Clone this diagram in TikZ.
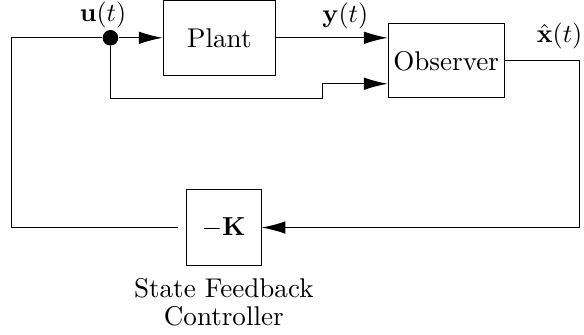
\documentclass[tikz,border=0pt]{standalone}
\usepackage{amsmath}
\usepackage{tikz}
\usetikzlibrary{arrows.meta, positioning}

\begin{document}
\begin{tikzpicture}[
            node distance=0.5mm,
            font=\fontsize{10.4}{10.7}\selectfont,
            block/.style ={rectangle, draw=black, inner sep=2pt,
                           minimum width=1.52cm, minimum height=1.02cm, align=center},
            branch/.style={circle, fill=black, inner sep=0pt, minimum size=2.1mm},
            arrow/.style ={-{Latex[length=3.2mm, width=1.7mm]}}
        ]
        \useasboundingbox (0,0) rectangle (7.88,4.52);

        \node[branch] (split) at (1.49,4.01) {};
        \node[block]  (plant) at (2.96,4.01) {Plant};
        \node[block, minimum width=1.54cm, minimum height=1.0cm] (obs) at (6.02,3.70) {Observer};
        \node[block, minimum width=1.01cm] (gain) at (3.02,1.45) {$-\mathbf{K}$};
        \node[below=of gain, align=center] (ctrl) {State Feedback\\Controller};

        \coordinate (fbleft)  at (0.16,4.01);
        \coordinate (fbright) at (7.82,1.45);
        \coordinate (step)    at (4.35,3.19);

        \node (ulab)    at (1.39,4.32) {$\mathbf{u}(t)$};
        \node (xhatlab) at (7.55,4.03) {$\hat{\mathbf{x}}(t)$};

        \draw[shorten <=1.1mm] (gain.west) -| (fbleft) -- (split);
        \draw[arrow] (split) -- (plant);
        \draw[arrow] (plant) -- node[above, pos=0.62] (ylab) {$\mathbf{y}(t)$} (obs.west |- plant);
        \draw[arrow] (split) |- (step) |- ([yshift=-3.1mm]obs.west);
        \draw[arrow] (obs.east) -| (fbright) -- (gain.east);
        \end{tikzpicture}
\end{document}
